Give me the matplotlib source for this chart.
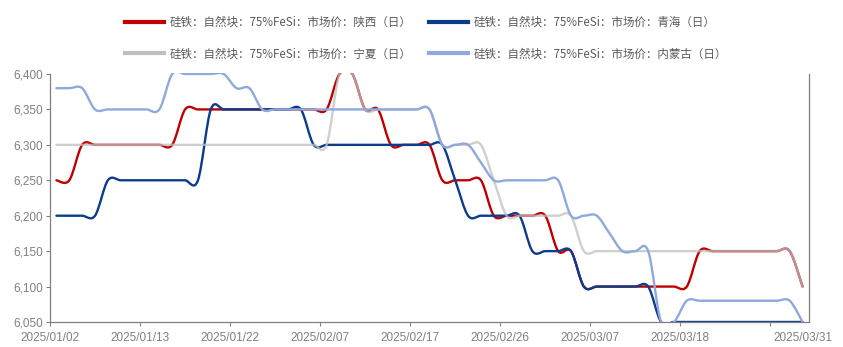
import numpy as np
import matplotlib
matplotlib.use("Agg")
import matplotlib.pyplot as plt
from matplotlib.path import Path
from matplotlib.patches import PathPatch, Rectangle
from matplotlib.lines import Line2D
from matplotlib.font_manager import FontProperties

# trading days, 2025/01/02 - 2025/03/31
dates = ["2025/01/02", "2025/01/03", "2025/01/06", "2025/01/07", "2025/01/08", "2025/01/09", "2025/01/10",
         "2025/01/13", "2025/01/14", "2025/01/15", "2025/01/16", "2025/01/17", "2025/01/20", "2025/01/21",
         "2025/01/22", "2025/01/23", "2025/01/24", "2025/01/26", "2025/01/27", "2025/02/05", "2025/02/06",
         "2025/02/07", "2025/02/08", "2025/02/10", "2025/02/11", "2025/02/12", "2025/02/13", "2025/02/14",
         "2025/02/17", "2025/02/18", "2025/02/19", "2025/02/20", "2025/02/21", "2025/02/24", "2025/02/25",
         "2025/02/26", "2025/02/27", "2025/02/28", "2025/03/03", "2025/03/04", "2025/03/05", "2025/03/06",
         "2025/03/07", "2025/03/10", "2025/03/11", "2025/03/12", "2025/03/13", "2025/03/14", "2025/03/17",
         "2025/03/18", "2025/03/19", "2025/03/20", "2025/03/21", "2025/03/24", "2025/03/25", "2025/03/26",
         "2025/03/27", "2025/03/28", "2025/03/31"]

shaanxi = [6250] * 2 + [6300] * 8 + [6350] * 12 + [6400] * 2 + [6350] * 2 + [6300] * 4 + \
          [6250] * 4 + [6200] * 5 + [6150] * 2 + [6100] * 9 + [6150] * 8 + [6100]
qinghai = [6200] * 4 + [6250] * 8 + [6350] * 8 + [6300] * 11 + [6250] + [6200] * 5 + \
          [6150] * 4 + [6100] * 6 + [6050] * 12
ningxia = [6300] * 22 + [6400] * 2 + [6350] * 6 + [6300] * 4 + [6250] + [6200] * 6 + \
          [6150] * 17 + [6100]
neimenggu = [6380] * 3 + [6350] * 6 + [6400] * 5 + [6380] * 2 + [6350] * 14 + [6300] * 3 + \
            [6275] + [6250] * 6 + [6200] * 3 + [6175] + [6150] * 3 + [6050] * 2 + [6080] * 9 + [6050]

labels = ["硅铁：自然块：75%FeSi：市场价：陕西（日）",
          "硅铁：自然块：75%FeSi：市场价：青海（日）",
          "硅铁：自然块：75%FeSi：市场价：宁夏（日）",
          "硅铁：自然块：75%FeSi：市场价：内蒙古（日）"]
colors = ["#C00000", "#0B3C8C", "#BFBFBF", "#8EA9DB"]
alphas = [1.0, 1.0, 0.75, 1.0]


def smooth_path(xs, ys):
    # catmull-rom through the points, as cubic bezier segments
    pts = np.column_stack([xs, ys]).astype(float)
    n = len(pts)
    verts = [pts[0]]
    codes = [Path.MOVETO]
    for i in range(n - 1):
        p0 = pts[max(i - 1, 0)]
        p1 = pts[i]
        p2 = pts[i + 1]
        p3 = pts[min(i + 2, n - 1)]
        verts += [p1 + (p2 - p0) / 6, p2 - (p3 - p1) / 6, p2]
        codes += [Path.CURVE4] * 3
    return Path(verts, codes)


fig = plt.figure(figsize=(8.43, 3.47), dpi=100)
ax = fig.add_axes([50 / 843, 25 / 347, 759 / 843, 248 / 347])

# let the lines sit on the top/bottom edges without being cut in half
clip = Rectangle((0, -0.006), 1, 1.012, transform=ax.transAxes, visible=False)
ax.add_artist(clip)

x = np.arange(len(dates))
for ys, c, a in zip([shaanxi, qinghai, ningxia, neimenggu], colors, alphas):
    p = PathPatch(smooth_path(x, ys), facecolor="none", edgecolor=c,
                  lw=1.7, alpha=a, capstyle="round", joinstyle="round")
    ax.add_patch(p)
    p.set_clip_path(clip)

ax.set_xlim(-0.5, len(dates) - 0.5)
ax.set_ylim(6050, 6400)

tick_font = "Liberation Sans"
grey = "#7F7F7F"

yt = np.arange(6050, 6401, 50)
ax.set_yticks(yt)
ax.set_yticklabels([f"{v:,}" for v in yt], family=tick_font, fontsize=8.5, color=grey)

major = [-0.5 + 7 * k for k in range(9)]
ax.set_xticks(major)
ax.set_xticklabels([dates[7 * k] for k in range(8)] + [""], family=tick_font, fontsize=8.5, color=grey)
ax.set_xticks([len(dates) - 1], [dates[-1]], minor=True)
for t in ax.get_xticklabels(minor=True):
    t.set_family(tick_font)
    t.set_fontsize(8.5)
    t.set_color(grey)

ax.tick_params(axis="y", which="major", length=3, width=0.8, color="#808080", pad=2)
ax.tick_params(axis="x", which="major", length=3, width=0.8, color="#808080", pad=4)
ax.tick_params(axis="x", which="minor", length=0, pad=7)
ax.yaxis.set_minor_locator(matplotlib.ticker.NullLocator())

for side in ["left", "bottom", "right"]:
    ax.spines[side].set_color("#808080")
    ax.spines[side].set_linewidth(0.9)
ax.spines["top"].set_visible(False)

# legend: row 1 shaanxi / qinghai, row 2 ningxia / inner mongolia
order = [0, 2, 1, 3]
handles = [Line2D([], [], color=colors[i], lw=3) for i in order]
fig.legend(handles, [labels[i] for i in order], ncol=2, loc="upper left",
           bbox_to_anchor=(125 / 843, 1 - 16 / 347), frameon=False,
           prop=FontProperties(family="Noto Sans CJK SC", size=8.3),
           labelcolor="#595959", handlelength=3.4, handletextpad=0.5,
           columnspacing=1.5, labelspacing=1.6, borderpad=0, borderaxespad=0)

fig.savefig("out.png", dpi=100)
